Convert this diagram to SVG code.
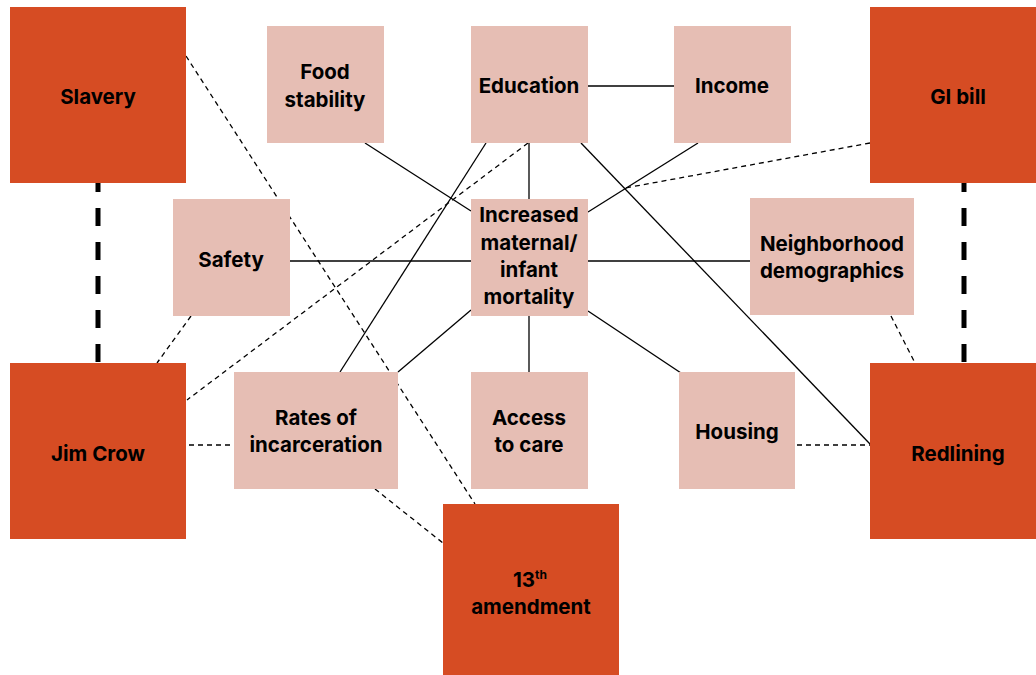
<svg xmlns="http://www.w3.org/2000/svg" width="1036" height="675" viewBox="0 0 1036 675">
<style>
.root{fill:#D64C23}
.factor{fill:#E6BEB4}
text{font-family:Inter,Roboto,"Liberation Sans",sans-serif;font-weight:700;font-size:20.5px;fill:#000;text-anchor:middle}
.sup{font-size:12px}
.solid{stroke:#000;stroke-width:1.3;fill:none}
.dash{stroke:#000;stroke-width:1.3;stroke-dasharray:5 4;fill:none}
.thick{stroke:#000;stroke-width:5;stroke-dasharray:18 16;stroke-dashoffset:9;fill:none}
</style>
<rect width="1036" height="675" fill="#fff"/>
<g id="connectors">
<line class="solid" x1="588" y1="86" x2="674" y2="86"/>
<line class="solid" x1="365" y1="143" x2="471" y2="211"/>
<line class="solid" x1="529" y1="143" x2="529" y2="199"/>
<line class="solid" x1="486" y1="143" x2="340" y2="372"/>
<line class="solid" x1="581" y1="143" x2="870" y2="444"/>
<line class="solid" x1="698" y1="143" x2="588" y2="212"/>
<line class="solid" x1="290" y1="261" x2="471" y2="261" stroke="#333" stroke-width="1.8"/>
<line class="solid" x1="588" y1="261" x2="750" y2="261" stroke="#333" stroke-width="1.8"/>
<line class="solid" x1="471" y1="310" x2="398" y2="372"/>
<line class="solid" x1="529" y1="316" x2="529" y2="372"/>
<line class="solid" x1="588" y1="311" x2="681" y2="373"/>
<line class="dash" x1="186" y1="56" x2="475" y2="504"/>
<line class="dash" x1="870" y1="143" x2="625" y2="188"/>
<line class="dash" x1="528" y1="143" x2="187" y2="400"/>
<line class="dash" x1="191" y1="316" x2="157" y2="363"/>
<line class="dash" x1="189" y1="445" x2="234" y2="445"/>
<line class="dash" x1="375" y1="489" x2="443" y2="543"/>
<line class="dash" x1="797" y1="445" x2="870" y2="445" stroke="#333"/>
<line class="dash" x1="891" y1="316" x2="915" y2="363"/>
<line class="thick" x1="98" y1="183" x2="98" y2="363"/>
<line class="thick" x1="964" y1="183" x2="964" y2="363"/>
</g>
<g id="slavery"><rect class="root" x="10" y="7" width="176" height="176"/><text x="98" y="104">Slavery</text></g>
<g id="gi-bill"><rect class="root" x="870" y="7" width="176" height="176"/><text x="958" y="104">GI bill</text></g>
<g id="jim-crow"><rect class="root" x="10" y="363" width="176" height="176"/><text x="98" y="461">Jim Crow</text></g>
<g id="redlining"><rect class="root" x="870" y="363" width="176" height="176"/><text x="958" y="461">Redlining</text></g>
<g id="amendment13"><rect class="root" x="443" y="504" width="176" height="176"/><text x="530" y="587">13<tspan class="sup" dy="-8">th</tspan></text><text x="531" y="614">amendment</text></g>
<g id="food"><rect class="factor" x="267" y="26" width="117" height="117"/><text x="325" y="79">Food</text><text x="325" y="107">stability</text></g>
<g id="education"><rect class="factor" x="471" y="26" width="117" height="117"/><text x="529" y="93">Education</text></g>
<g id="income"><rect class="factor" x="674" y="26" width="117" height="117"/><text x="732" y="93">Income</text></g>
<g id="safety"><rect class="factor" x="173" y="199" width="117" height="117"/><text x="231" y="267">Safety</text></g>
<g id="mortality"><rect class="factor" x="471" y="199" width="117" height="117"/><text x="529" y="222">Increased</text><text x="529" y="250">maternal/</text><text x="529" y="277">infant</text><text x="529" y="304">mortality</text></g>
<g id="neighborhood"><rect class="factor" x="750" y="198" width="164" height="117"/><text x="832" y="251">Neighborhood</text><text x="832" y="278">demographics</text></g>
<g id="incarceration"><rect class="factor" x="234" y="372" width="164" height="117"/><text x="316" y="425">Rates of</text><text x="316" y="452">incarceration</text></g>
<g id="access"><rect class="factor" x="471" y="372" width="117" height="117"/><text x="529" y="425">Access</text><text x="529" y="452">to care</text></g>
<g id="housing"><rect class="factor" x="679" y="372" width="116" height="117"/><text x="737" y="439">Housing</text></g>
</svg>
